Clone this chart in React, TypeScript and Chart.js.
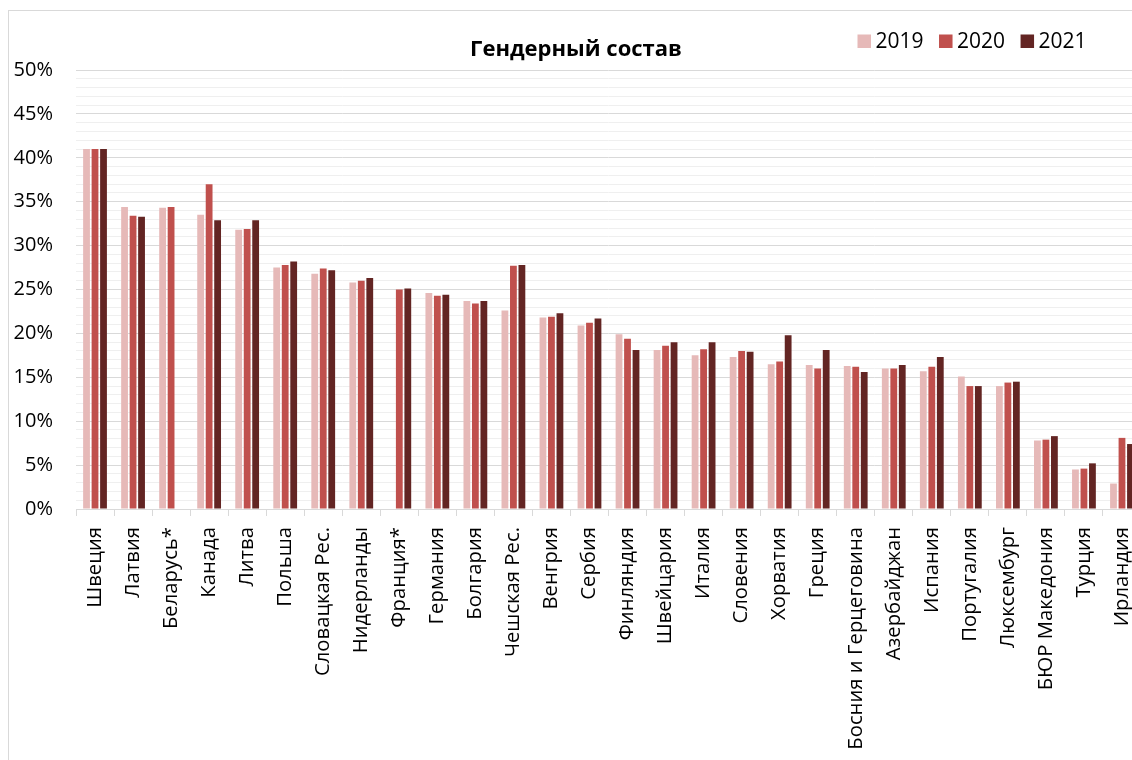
import React, { useEffect, useRef } from "react";
import { Chart, registerables } from "chart.js";

Chart.register(...registerables);

const titleText = "Гендерный состав";

const categories = [
  "Швеция", "Латвия", "Беларусь*", "Канада", "Литва", "Польша", "Словацкая Рес.",
  "Нидерланды", "Франция*", "Германия", "Болгария", "Чешская Рес.", "Венгрия", "Сербия",
  "Финляндия", "Швейцария", "Италия", "Словения", "Хорватия", "Греция",
  "Босния и Герцеговина", "Азербайджан", "Испания", "Португалия", "Люксембург",
  "БЮР Македония", "Турция", "Ирландия",
];

const seriesNames = ["2019", "2020", "2021"];

const values2019 = [41.0, 34.4, 34.3, 33.5, 31.8, 27.5, 26.8, 25.8, null, 24.6, 23.7, 22.6, 21.8, 20.9, 19.9, 18.1, 17.5, 17.3, 16.5, 16.4, 16.3, 16.0, 15.7, 15.1, 14.0, 7.8, 4.5, 2.9];
const values2020 = [41.0, 33.4, 34.4, 37.0, 31.9, 27.8, 27.4, 26.0, 25.0, 24.3, 23.4, 27.7, 21.9, 21.2, 19.4, 18.6, 18.2, 18.0, 16.8, 16.0, 16.2, 16.0, 16.2, 14.0, 14.4, 7.9, 4.6, 8.1];
const values2021 = [41.0, 33.3, null, 32.9, 32.9, 28.2, 27.2, 26.3, 25.1, 24.4, 23.7, 27.8, 22.3, 21.7, 18.1, 19.0, 19.0, 17.9, 19.8, 18.1, 15.6, 16.4, 17.3, 14.0, 14.5, 8.3, 5.2, 7.4];

const seriesColors = ["#E6B9B8", "#C0504D", "#632523"];

const yMin = 0;
const yMax = 50;
const yStep = 1;
const yLabelEvery = 5;

const FONT = "'Open Sans', 'Noto Sans', sans-serif";

const headerPlugin = {
  id: "header",
  afterDraw(chart: any) {
    const ctx = chart.ctx;
    ctx.save();
    ctx.font = `bold 22px ${FONT}`;
    ctx.fillStyle = "#000";
    ctx.textAlign = "center";
    ctx.textBaseline = "alphabetic";
    ctx.fillText(titleText, 568, 47.5);
    ctx.font = `21px ${FONT}`;
    ctx.textAlign = "left";
    let x = 849.5;
    chart.data.datasets.forEach((ds: any) => {
      ctx.fillStyle = ds.backgroundColor;
      ctx.fillRect(x, 26.5, 13.5, 13.5);
      ctx.fillStyle = "#000";
      const tx = x + 18;
      ctx.fillText(ds.label, tx, 39.5);
      x = tx + ctx.measureText(ds.label).width + 15.5;
    });
    ctx.restore();
  },
};

export default function App() {
  const canvasRef = useRef<HTMLCanvasElement | null>(null);

  useEffect(() => {
    document.body.style.overflow = "hidden";
    const canvas = canvasRef.current;
    if (!canvas) return;
    const datasetsValues = [values2019, values2020, values2021];
    const chart = new Chart(canvas, {
      type: "bar",
      data: {
        labels: categories,
        datasets: seriesNames.map((name, i) => ({
          label: name,
          data: datasetsValues[i],
          backgroundColor: seriesColors[i],
          borderWidth: 0,
          categoryPercentage: 0.67,
          barPercentage: 0.8,
        })),
      },
      options: {
        responsive: false,
        animation: false,
        devicePixelRatio: 1,
        layout: { padding: { top: 62, left: 0, right: 27, bottom: 0 } },
        plugins: {
          legend: { display: false },
          title: { display: false },
          tooltip: { enabled: false },
        },
        scales: {
          x: {
            offset: true,
            grid: {
              display: true,
              drawOnChartArea: false,
              drawTicks: true,
              tickLength: 7,
              color: "#d9d9d9",
              offset: true,
            },
            border: { display: true, color: "#d9d9d9", width: 1 },
            ticks: {
              autoSkip: false,
              maxRotation: 90,
              minRotation: 90,
              padding: 11,
              color: "#000",
              font: { family: FONT, size: 20.3 },
            },
            afterFit(scale: any) {
              scale.height = 251;
            },
          },
          y: {
            min: yMin,
            max: yMax,
            grid: {
              color: (c: any) =>
                c.tick && c.tick.value % yLabelEvery === 0 ? "#d9d9d9" : "#efefef",
              lineWidth: 1,
              drawTicks: false,
            },
            border: { display: false },
            ticks: {
              stepSize: yStep,
              autoSkip: false,
              padding: 23,
              color: "#000",
              font: { family: FONT, size: 20 },
              callback: (v: any) => (Number(v) % yLabelEvery === 0 ? `${v}%` : ""),
            },
            afterFit(scale: any) {
              scale.width = 68;
            },
          },
        },
      },
      plugins: [headerPlugin],
    });
    return () => chart.destroy();
  }, []);

  return (
    <div
      style={{
        position: "fixed",
        left: 8,
        top: 8,
        width: 1124,
        height: 752,
        overflow: "hidden",
        background: "#fff",
      }}
    >
      <div
        style={{
          position: "absolute",
          left: 0,
          top: 2,
          width: 1400,
          height: 1400,
          border: "1px solid #d9d9d9",
          boxSizing: "border-box",
        }}
      />
      <canvas
        ref={canvasRef}
        width={1160}
        height={752}
        style={{ position: "absolute", left: 0, top: 0 }}
      />
    </div>
  );
}
